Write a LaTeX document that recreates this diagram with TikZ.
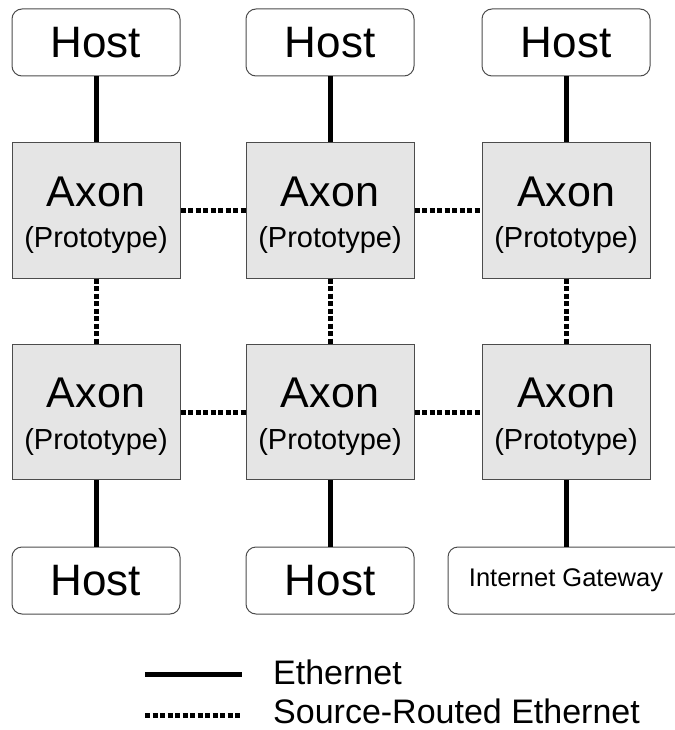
\documentclass[tikz,border=0pt]{standalone}
\usepackage{fontspec}
\setmainfont{Liberation Sans}
\begin{document}
\begin{tikzpicture}[x=1pt,y=-1pt,
  hostbox/.style={draw=black!70, line width=1pt, rounded corners=10pt, fill=white,
    minimum width=168pt, minimum height=67pt, inner sep=0pt,
    font=\fontsize{44}{44}\selectfont},
  gwbox/.style={draw=black!70, line width=1pt, rounded corners=10pt, fill=white,
    minimum width=236pt, minimum height=67pt, inner sep=0pt,
    font=\fontsize{25.5}{25.5}\selectfont},
  axonbox/.style={draw=black!70, line width=1pt, fill=black!10,
    minimum width=168pt, minimum height=135pt, inner sep=0pt},
  bigtext/.style={anchor=base, inner sep=0pt, font=\fontsize{43}{43}\selectfont},
  smalltext/.style={anchor=base, inner sep=0pt, font=\fontsize{29}{29}\selectfont},
  eth/.style={line width=5pt},
  sreth/.style={line width=5pt, dash pattern=on 5pt off 2.5pt},
  legtext/.style={anchor=base west, inner sep=0pt, font=\fontsize{34}{34}\selectfont}
]
\useasboundingbox (0,0) rectangle (674,730);

% hosts top
\node[hostbox] (h1) at (96,42.5) {Host};
\node[hostbox] (h2) at (330,42.5) {Host};
\node[hostbox] (h3) at (566,42.5) {Host};

% axons
\foreach \n/\x/\y in {a11/96/210.5, a12/330/210.5, a13/566/210.5,
                       a21/96/412, a22/330/412, a23/566/412}{
  \node[axonbox] (\n) at (\x,\y) {};
  \node[bigtext] (\n-t) at ([yshift=4.5pt]\n.center) {Axon};
  \node[smalltext] (\n-p) at ([yshift=-37pt]\n.center) {(Prototype)};
}

% bottom hosts
\node[hostbox] (h4) at (96,580.5) {Host};
\node[hostbox] (h5) at (330,580.5) {Host};
\node[gwbox] (gw) at (566,580.5) {Internet Gateway};

% ethernet links
\draw[eth] (h1) -- (a11);
\draw[eth] (h2) -- (a12);
\draw[eth] (h3) -- (a13);
\draw[eth] (a21) -- (h4);
\draw[eth] (a22) -- (h5);
\draw[eth] (a23) -- (gw);

% source-routed links
\draw[sreth] (a11) -- (a12);
\draw[sreth] (a12) -- (a13);
\draw[sreth] (a21) -- (a22);
\draw[sreth] (a22) -- (a23);
\draw[sreth] (a11) -- (a21);
\draw[sreth] (a12) -- (a22);
\draw[sreth] (a13) -- (a23);

% legend
\coordinate (l1a) at (145,674);
\coordinate (l1b) at (242,674);
\coordinate (l2a) at (145,715);
\coordinate (l2b) at (242,715);
\draw[eth] (l1a) -- (l1b);
\draw[sreth] (l2a) -- (l2b);
\node[legtext] (t1) at (273,684) {Ethernet};
\node[legtext] (t2) at (273,723) {Source-Routed Ethernet};
\end{tikzpicture}
\end{document}
